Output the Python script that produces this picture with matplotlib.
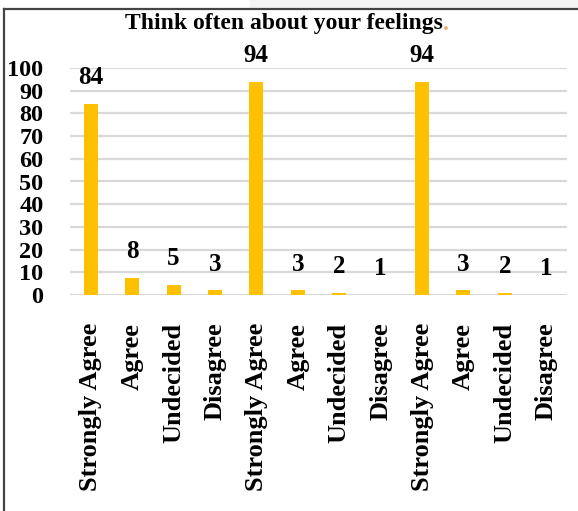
import matplotlib.pyplot as plt
from matplotlib.patches import Rectangle
from matplotlib.lines import Line2D

categories = ['Strongly Agree', 'Agree', 'Undecided', 'Disagree',
              'Strongly Agree', 'Agree', 'Undecided', 'Disagree',
              'Strongly Agree', 'Agree', 'Undecided', 'Disagree']
bar_values = [84, 7.5, 4.5, 2, 94, 2, 1, 0, 94, 2, 1, 0]
value_labels = ['84', '8', '5', '3', '94', '3', '2', '1', '94', '3', '2', '1']
y_ticks = [0, 10, 20, 30, 40, 50, 60, 70, 80, 90, 100]

serif = 'Liberation Serif'

fig = plt.figure(figsize=(5.78, 5.11), dpi=100)
ax = fig.add_axes([70 / 578, 1 - 295 / 511, 497 / 578, 227 / 511])

x = range(len(categories))
ax.bar(x, bar_values, width=0.34, color='#FFC000', zorder=3)
for i, (v, lab) in enumerate(zip(bar_values, value_labels)):
    ax.annotate(lab, (i, v), xytext=(0, 19), textcoords='offset points',
                ha='center', va='center', fontsize=18, fontweight='bold',
                family=serif, annotation_clip=False)

ax.set_xlim(-0.5, len(categories) - 0.5)
ax.set_ylim(0, 100)
ax.set_yticks(y_ticks)
ax.set_yticklabels([str(t) for t in y_ticks], family=serif, fontsize=17.5,
                   fontweight='bold')
ax.set_xticks(list(x))
ax.set_xticklabels(categories, rotation=90, family=serif, fontsize=19,
                   fontweight='bold', va='top')
ax.tick_params(axis='both', length=0)
ax.tick_params(axis='y', pad=19)
ax.tick_params(axis='x', pad=20)
ax.yaxis.grid(True, color='#d9d9d9', linewidth=1.6, zorder=0)
ax.set_axisbelow(True)
for s in ax.spines.values():
    s.set_visible(False)

# title, with the faint period drawn separately
t = fig.text(284 / 578, 1 - 24 / 511, 'Think often about your feelings',
             ha='center', va='center', fontsize=17, fontweight='bold',
             family=serif)
fig.canvas.draw()
bb = t.get_window_extent()
fig.text(bb.x1 / 578, 1 - 24 / 511, '.', ha='left', va='center', fontsize=17,
         fontweight='bold', family=serif, color='#e8b070')

# frame of the screenshot
fig.patches.append(Rectangle((250 / 578, 1 - 8 / 511), 328 / 578, 8 / 511,
                             transform=fig.transFigure, color='#f3f3f3'))
fig.lines.append(Line2D([4 / 578, 1], [1 - 9 / 511, 1 - 9 / 511],
                        transform=fig.transFigure, color='#444444', lw=1.6))
fig.lines.append(Line2D([4 / 578, 4 / 578], [0, 1 - 9 / 511],
                        transform=fig.transFigure, color='#444444', lw=1.6))

fig.savefig('out.png', dpi=100)
